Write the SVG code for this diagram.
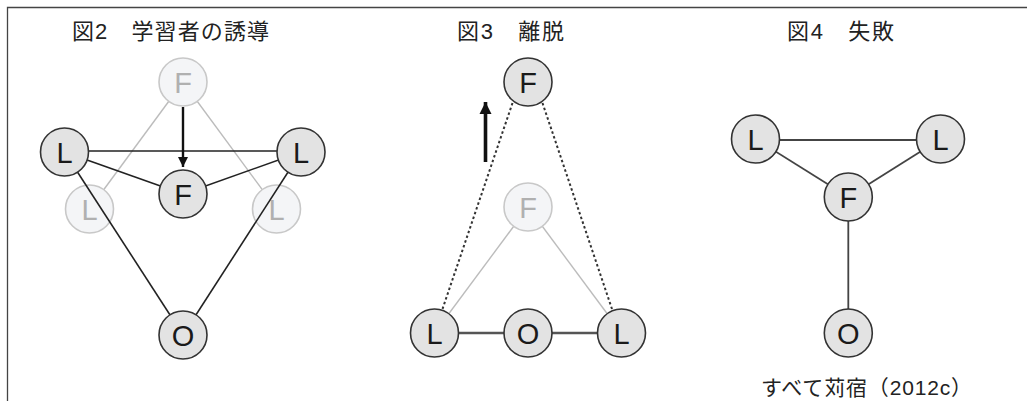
<svg xmlns="http://www.w3.org/2000/svg" width="1027" height="401" viewBox="0 0 1027 401">
<style>
.title{font-family:"Liberation Sans","Noto Sans CJK JP",sans-serif;font-size:22px;fill:#222}
.cap{font-family:"Liberation Sans","Noto Sans CJK JP",sans-serif;font-size:21px;fill:#222}
.node circle{fill:#e3e3e3;stroke:#333;stroke-width:1.6}
.node text{font-family:"Liberation Sans",Arial,sans-serif;font-size:29px;fill:#1a1a1a;text-anchor:middle}
.ghost circle{fill:#f4f5f7;stroke:#c8c8c8;stroke-width:1.6}
.ghost text{font-family:"Liberation Sans",Arial,sans-serif;font-size:29px;fill:#b0b0b0;text-anchor:middle}
.e{stroke:#222;stroke-width:1.6;fill:none}
.e3{stroke:#555;stroke-width:2.4;fill:none}
.e4{stroke:#444;stroke-width:1.8;fill:none}
.g{stroke:#bcbcbc;stroke-width:1.4;fill:none}
.d{stroke:#333;stroke-width:2;stroke-dasharray:2.5 2.5;fill:none}
</style>
<defs>
<marker id="ah2" viewBox="0 0 10 10" refX="10" refY="5" markerWidth="4.6" markerHeight="4.2" markerUnits="strokeWidth" orient="auto">
<path d="M0,0 L10,5 L0,10 Z" fill="#111"/>
</marker>
<marker id="ah3" viewBox="0 0 10 10" refX="10" refY="5" markerWidth="3.4" markerHeight="3.6" markerUnits="strokeWidth" orient="auto">
<path d="M0,0 L10,5 L0,10 Z" fill="#111"/>
</marker>
</defs>
<rect width="1027" height="401" fill="#fff"/>
<path d="M7.5,401 V7.5 H1027" fill="none" stroke="#444" stroke-width="1.3"/>

<g id="titles">
<text class="title" x="72" y="39" textLength="197" lengthAdjust="spacing">図2　学習者の誘導</text>
<text class="title" x="457" y="39" textLength="107" lengthAdjust="spacing">図3　離脱</text>
<text class="title" x="787" y="39" textLength="107" lengthAdjust="spacing">図4　失敗</text>
<text class="cap" x="761" y="395" textLength="211" lengthAdjust="spacing">すべて苅宿（2012c）</text>
</g>

<!-- Figure 2 -->
<g id="fig2-ghost-connectors">
<line class="g" x1="183" y1="82" x2="89.5" y2="209"/>
<line class="g" x1="183" y1="82" x2="276.5" y2="209"/>
</g>
<g id="fig2-ghostF" class="ghost"><circle cx="183" cy="82" r="24"/><text x="183" y="92.5">F</text></g>
<g id="fig2-ghostL1" class="ghost"><circle cx="89.5" cy="209" r="24"/><text x="89.5" y="219.5">L</text></g>
<g id="fig2-ghostL2" class="ghost"><circle cx="276.5" cy="209" r="24"/><text x="276.5" y="219.5">L</text></g>
<g id="fig2-connectors">
<line class="e" x1="64.5" y1="151" x2="301" y2="151"/>
<line class="e" x1="64.5" y1="152" x2="183" y2="194"/>
<line class="e" x1="301" y1="152" x2="183" y2="194"/>
<line class="e" x1="64.5" y1="152" x2="183" y2="335"/>
<line class="e" x1="301" y1="152" x2="183" y2="335"/>
<line x1="183" y1="107" x2="183" y2="167" stroke="#111" stroke-width="2.4" marker-end="url(#ah2)"/>
</g>
<g id="fig2-L1" class="node"><circle cx="64.5" cy="152" r="24"/><text x="64.5" y="162.5">L</text></g>
<g id="fig2-L2" class="node"><circle cx="301" cy="152" r="24"/><text x="301" y="162.5">L</text></g>
<g id="fig2-F" class="node"><circle cx="183" cy="194" r="24"/><text x="183" y="204.5">F</text></g>
<g id="fig2-O" class="node"><circle cx="183" cy="335" r="24"/><text x="183" y="345.5">O</text></g>

<!-- Figure 3 -->
<g id="fig3-connectors">
<line class="g" x1="528" y1="207" x2="434.5" y2="333"/>
<line class="g" x1="528" y1="207" x2="621.5" y2="333"/>
<line class="d" x1="512.5" y1="103" x2="442.5" y2="309"/>
<line class="d" x1="542.5" y1="103" x2="612" y2="309"/>
<line class="e3" x1="434.5" y1="333" x2="621.5" y2="333"/>
<line x1="485.5" y1="162" x2="485.5" y2="102" stroke="#111" stroke-width="3.6" marker-end="url(#ah3)"/>
</g>
<g id="fig3-ghostF" class="ghost"><circle cx="528" cy="207" r="24"/><text x="528" y="217.5">F</text></g>
<g id="fig3-F" class="node"><circle cx="528" cy="82" r="24"/><text x="528" y="92.5">F</text></g>
<g id="fig3-L1" class="node"><circle cx="434.5" cy="333" r="24"/><text x="434.5" y="343.5">L</text></g>
<g id="fig3-O" class="node"><circle cx="528" cy="333" r="24"/><text x="528" y="343.5">O</text></g>
<g id="fig3-L2" class="node"><circle cx="621.5" cy="333" r="24"/><text x="621.5" y="343.5">L</text></g>

<!-- Figure 4 -->
<g id="fig4-connectors">
<line class="e4" x1="755.5" y1="140" x2="940.5" y2="140"/>
<line class="e4" x1="755.5" y1="139" x2="848.3" y2="197"/>
<line class="e4" x1="940.5" y1="139" x2="848.3" y2="197"/>
<line class="e4" x1="848.3" y1="197" x2="848.3" y2="333"/>
</g>
<g id="fig4-L1" class="node"><circle cx="755.5" cy="139" r="24"/><text x="755.5" y="149.5">L</text></g>
<g id="fig4-L2" class="node"><circle cx="940.5" cy="139" r="24"/><text x="940.5" y="149.5">L</text></g>
<g id="fig4-F" class="node"><circle cx="848.3" cy="197" r="24"/><text x="848.3" y="207.5">F</text></g>
<g id="fig4-O" class="node"><circle cx="848.3" cy="333" r="24"/><text x="848.3" y="343.5">O</text></g>
</svg>
